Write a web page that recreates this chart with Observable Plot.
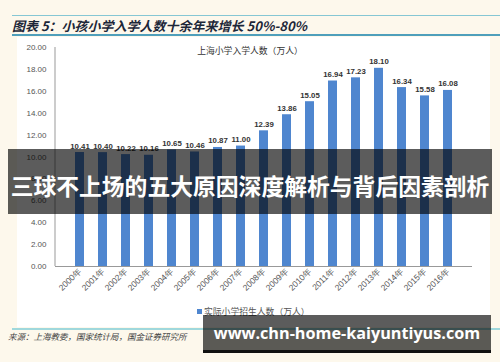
<!DOCTYPE html>
<html><head><meta charset="utf-8">
<script src="https://cdn.jsdelivr.net/npm/d3@7"></script>
<script src="https://cdn.jsdelivr.net/npm/@observablehq/plot@0.6"></script>
<style>
html,body{margin:0;padding:0;background:#fdf8ec;}
#wrap{position:relative;width:500px;height:362px;overflow:hidden;background:#fdf8ec;font-family:"Liberation Sans",Arial,sans-serif;}
.abs{position:absolute;}
#title{left:12px;top:18px;font-family:"Noto Sans CJK SC",sans-serif;font-weight:700;font-style:italic;font-size:13px;line-height:16px;color:#1d2738;white-space:nowrap;}
#subtitle{left:150px;width:200px;top:45px;text-align:center;font-family:"Noto Sans CJK SC",sans-serif;font-size:8.8px;line-height:12px;color:#333;white-space:nowrap;}
#legend{left:197px;top:306px;font-family:"Noto Sans CJK SC",sans-serif;font-size:8.8px;line-height:12px;color:#555;white-space:nowrap;}
#legend .sw{display:inline-block;width:5px;height:5px;background:#4f86cf;margin-right:2px;vertical-align:1px;}
#source{left:8px;top:330px;font-family:"Noto Sans CJK SC",sans-serif;font-style:italic;font-size:8.5px;line-height:12px;color:#444;white-space:nowrap;}
#band{left:8px;top:149px;width:484px;height:65px;background:rgba(0,0,0,0.64);color:#fff;font-family:"Noto Sans CJK SC",sans-serif;font-weight:700;font-size:22.8px;line-height:65px;text-align:center;white-space:nowrap;box-sizing:border-box;padding-top:4px;}
#wm{left:203px;top:315px;width:288px;background:rgba(0,0,0,0.64);border-bottom:3px solid #111;color:#fff;font-family:"Open Sans",sans-serif;font-weight:700;font-size:16.2px;line-height:33px;text-align:center;white-space:nowrap;box-sizing:content-box;padding-top:2px;height:33px;}
</style></head><body>
<div id="wrap">
  <div class="abs" style="left:17px;top:37px;width:473px;height:290px;background:#fff"></div>
  <div class="abs" style="left:12px;top:15px;width:488px;height:1px;background:#86c7d4"></div>
  <div class="abs" style="left:12px;top:34px;width:488px;height:1.5px;background:#4f9fbb"></div>
  <div class="abs" id="title"></div>
  <div class="abs" id="chart" style="left:17px;top:37px"></div>
  <div class="abs" id="subtitle"></div>
  <div class="abs" id="legend"><span class="sw"></span><span id="legtext"></span></div>
  <div class="abs" style="left:12px;top:328px;width:488px;height:1.5px;background:#9fd8dc"></div>
  <div class="abs" id="source"></div>
  <div class="abs" id="band"></div>
  <div class="abs" id="wm"></div>
</div>
<script>
const years = ["2000","2001","2002","2003","2004","2005","2006","2007","2008","2009","2010","2011","2012","2013","2014","2015","2016"];
const values = [10.41,10.40,10.22,10.16,10.65,10.46,10.87,11.00,12.39,13.86,15.05,16.94,17.23,18.10,16.34,15.58,16.08];
const yTicks = [0,2,4,6,8,10,12,14,16,18,20];
const titleText = "图表 5：小孩小学入学人数十余年来增长 50%-80%";
const subtitleText = "上海小学入学人数（万人）";
const legendText = "实际小学招生人数（万人）";
const sourceText = "来源：上海教委，国家统计局，国金证券研究所";
const bandText = "三球不上场的五大原因深度解析与背后因素剖析";
const watermarkText = "www.chn-home-kaiyuntiyus.com";

document.getElementById("title").textContent = titleText;
document.getElementById("subtitle").textContent = subtitleText;
document.getElementById("legtext").textContent = legendText;
document.getElementById("source").textContent = sourceText;
document.getElementById("band").textContent = bandText;
document.getElementById("wm").textContent = watermarkText;

const data = years.map((y, i) => ({year: y, value: values[i]}));

const yAxisLine = (index, scales, vals, dims) => {
  const line = d3.create("svg:line")
    .attr("x1", dims.marginLeft).attr("x2", dims.marginLeft)
    .attr("y1", scales.y(d3.max(yTicks))).attr("y2", scales.y(0))
    .attr("stroke", "#999").attr("stroke-width", 1);
  return line.node();
};

const chart = Plot.plot({
  width: 473,
  height: 265,
  marginLeft: 38,
  marginRight: 18,
  marginTop: 10,
  marginBottom: 36,
  style: {background: "transparent", fontFamily: "'Liberation Sans', Arial, sans-serif", overflow: "visible"},
  x: {domain: years, padding: 0.6, label: null},
  y: {domain: [0, 20], label: null},
  marks: [
    Plot.barY(data, {x: "year", y: "value", fill: "#4f86cf"}),
    Plot.ruleY([0], {stroke: "#999"}),
    yAxisLine,
    Plot.axisY({ticks: yTicks, tickSize: 0, tickPadding: 9, tickFormat: d3.format(".2f"), fontSize: 8, fill: "#555", label: null}),
    Plot.axisX({tickSize: 0, tickRotate: -45, tickPadding: 3, fontSize: 8.5, fill: "#555", tickFormat: d => d + "年", label: null}),
    Plot.text(data, {x: "year", y: "value", text: d => d.value.toFixed(2), lineAnchor: "bottom", dy: -4, fontSize: 7.8, fontWeight: "bold", fill: "#333"})
  ]
});
document.getElementById("chart").appendChild(chart);
</script>
</body></html>
